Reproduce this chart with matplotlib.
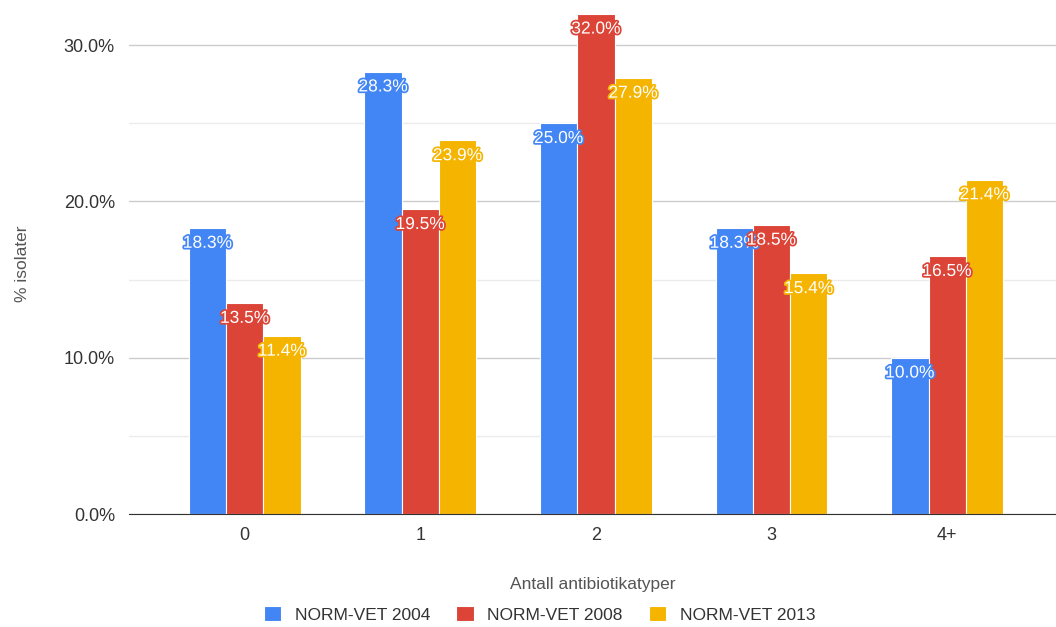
import matplotlib.pyplot as plt
import matplotlib.patheffects as pe
import numpy as np

plt.rcParams["font.family"] = ["Liberation Sans", "DejaVu Sans"]

categories = ["0", "1", "2", "3", "4+"]
series = ["NORM-VET 2004", "NORM-VET 2008", "NORM-VET 2013"]
v2004 = [18.3, 28.3, 25.0, 18.3, 10.0]
v2008 = [13.5, 19.5, 32.0, 18.5, 16.5]
v2013 = [11.4, 23.9, 27.9, 15.4, 21.4]
colors = ["#4285F4", "#DB4437", "#F4B400"]

fig = plt.figure(figsize=(10.56, 6.27), dpi=100)
ax = fig.add_axes([0.122, 0.180, 0.878, 0.798])

x = np.arange(len(categories))
w = 0.212
for i, (vals, c, name) in enumerate(zip([v2004, v2008, v2013], colors, series)):
    pos = x + (i - 1) * w
    ax.bar(pos, vals, width=w, color=c, edgecolor="white", linewidth=0.8,
           label=name, zorder=3)
    for px, v in zip(pos, vals):
        ax.annotate(f"{v:.1f}%", (px, v), xytext=(0, -11),
                    textcoords="offset points", ha="center", va="center",
                    fontsize=12.5, color="white", zorder=5,
                    path_effects=[pe.withStroke(linewidth=2.5, foreground=c)])

ax.set_xlim(-0.66, 4.62)
ax.set_ylim(0, 32)
ax.set_yticks([0, 10, 20, 30])
ax.set_yticklabels(["0.0%", "10.0%", "20.0%", "30.0%"])
ax.set_yticks([5, 15, 25], minor=True)
ax.set_xticks(x)
ax.set_xticklabels(categories)
ax.grid(axis="y", which="major", color="#cccccc", linewidth=1, zorder=0)
ax.grid(axis="y", which="minor", color="#ebebeb", linewidth=1, zorder=0)
ax.tick_params(axis="both", which="both", length=0, labelsize=13,
               labelcolor="#333333")
ax.tick_params(axis="y", pad=10)
ax.tick_params(axis="x", pad=9)
for s in ["top", "right", "left"]:
    ax.spines[s].set_visible(False)
ax.spines["bottom"].set_color("#333333")
ax.spines["bottom"].set_zorder(4)

ax.set_ylabel("% isolater", fontsize=12.5, color="#555555", labelpad=24)
ax.set_xlabel("Antall antibiotikatyper", fontsize=12.5, color="#555555",
              labelpad=24)

fig.legend(loc="lower center", bbox_to_anchor=(0.511, -0.018), ncol=3,
           frameon=False, fontsize=12.5, handlelength=1.0, handleheight=1.0,
           columnspacing=1.5, labelcolor="#333333")

fig.savefig("out.png", dpi=100, facecolor="white")
